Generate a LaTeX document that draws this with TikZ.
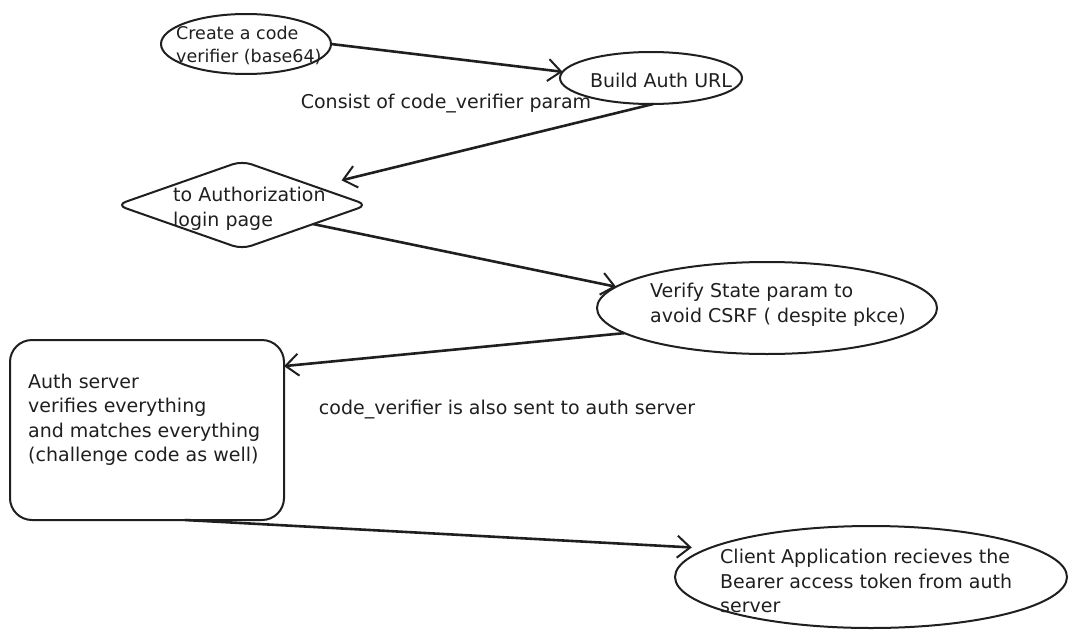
\documentclass[tikz,border=0pt]{standalone}
\usepackage{fontspec}
\setmainfont{DejaVu Sans}
\usetikzlibrary{shapes.geometric,arrows.meta}

\begin{document}
\begin{tikzpicture}[x=1pt,y=-1pt,
	outline/.style={draw=black!88, line width=2pt, inner sep=0pt, outer sep=0pt},
	flow/.style={draw=black!88, line width=2.6pt, -{Straight Barb[length=13pt,width=22pt,line width=2pt]}},
	txt/.style={anchor=west, align=left, inner sep=0pt, text=black!88, font=\fontsize{19}{24.5}\selectfont}]
	%\draw[step=50pt,gray,very thin] (0,0) grid (1073,642);
	\useasboundingbox (0,0) rectangle (1073,642);
	
	\node[outline, ellipse, minimum width=170pt, minimum height=60pt] (create) at (246,44) {};
	\node[outline, ellipse, minimum width=182pt, minimum height=52pt] (build) at (651,78) {};
	\node[outline, diamond, minimum width=251pt, minimum height=88pt, rounded corners=10pt] (login) at (242,205) {};
	\node[outline, ellipse, minimum width=340pt, minimum height=92pt] (verify) at (767,308) {};
	\node[outline, rectangle, minimum width=274pt, minimum height=180pt, rounded corners=22pt] (server) at (147,430) {};
	\node[outline, ellipse, minimum width=392pt, minimum height=102pt] (client) at (871,577) {};
	
	\node[txt, font=\fontsize{17.5}{23}\selectfont] (createtxt) at (176,46) {Create a code\\verifier (base64)};
	\node[txt, anchor=center] (buildtxt) at (661,80) {Build Auth URL};
	\node[txt, anchor=center] (consist) at (446,104) {Consist of code\_verifier param};
	\node[txt] (logintxt) at (173,209) {to Authorization\\login page};
	\node[txt] (verifytxt) at (650,305) {Verify State param to\\avoid CSRF ( despite pkce)};
	\node[txt] (servertxt) at (28,420) {Auth server\\verifies everything\\and matches everything\\(challenge code as well)};
	\node[txt, anchor=center] (sent) at (507,410) {code\_verifier is also sent to auth server};
	\node[txt] (clienttxt) at (720,581) {Client Application recieves the\\Bearer access token from auth\\server};
	
	\draw[flow] (create.east) -- (build.176);
	\draw[flow, shorten >=27pt] (build.275) -- (login.14);
	\draw[flow] (login.-15) -- (verify.172);
	\draw[flow] (verify.190) -- (server.25);
	\draw[flow, shorten >=17pt] (server.293) -- (client.170);
\end{tikzpicture}
\end{document}
